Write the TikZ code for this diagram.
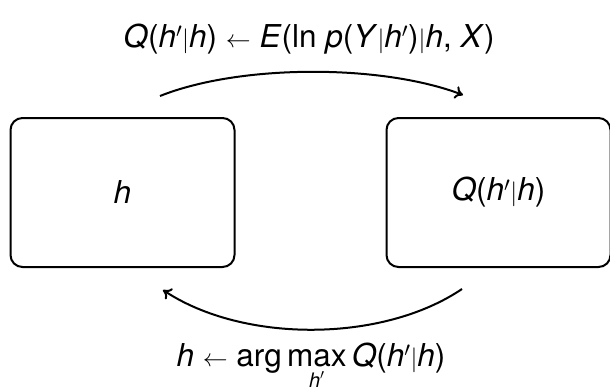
\documentclass[tikz,border=0pt]{standalone}
\usepackage{fontspec}
\setmainfont{TeX Gyre Heros}
\usetikzlibrary{arrows.meta}
\newcommand{\vi}[1]{\textit{#1}}
\newcommand{\pr}{$^{\prime}$}
\begin{document}
\begin{tikzpicture}[x=1pt,y=-1pt,
  box/.style={draw,line width=2pt,rounded corners=12pt,minimum width=224pt,minimum height=149pt,inner sep=0pt,font=\fontsize{31.5}{34}\selectfont},
  lbl/.style={font=\fontsize{31.5}{34}\selectfont,inner sep=0pt},
  arc/.style={line width=2pt,-{To[length=8pt,width=13pt]}}]
\useasboundingbox (0,0) rectangle (610,386);
\node[box] (h) at (122.5,192.5) {\vi{h}};
\node[box] (q) at (498.5,192.5) {\vi{Q}(\vi{h}\pr$|$\vi{h})};
\node[lbl,anchor=base] (tl) at (309,47) {\vi{Q}(\vi{h}\pr$|$\vi{h}) $\leftarrow$ \vi{E}(ln \vi{p}(\vi{Y}$|$\vi{h}\pr)$|$\vi{h}, \vi{X})};
\node[lbl,anchor=base] (bl) at (311,366) {\vi{h} $\leftarrow$ arg\,$\mathop{\hbox{max}}\limits_{\hbox{\rule{0pt}{19pt}\fontsize{20}{22}\selectfont\vi{h}\pr}}$\,\vi{Q}(\vi{h}\pr$|$\vi{h})};
\coordinate (a1) at (160,96);
\coordinate (a2) at (463,95);
\coordinate (b1) at (462,289);
\coordinate (b2) at (163,290);
\draw[arc] (a1) .. controls (240,64) and (382,64) .. (a2);
\draw[arc] (b1) .. controls (382,343) and (243,343) .. (b2);
\end{tikzpicture}
\end{document}
